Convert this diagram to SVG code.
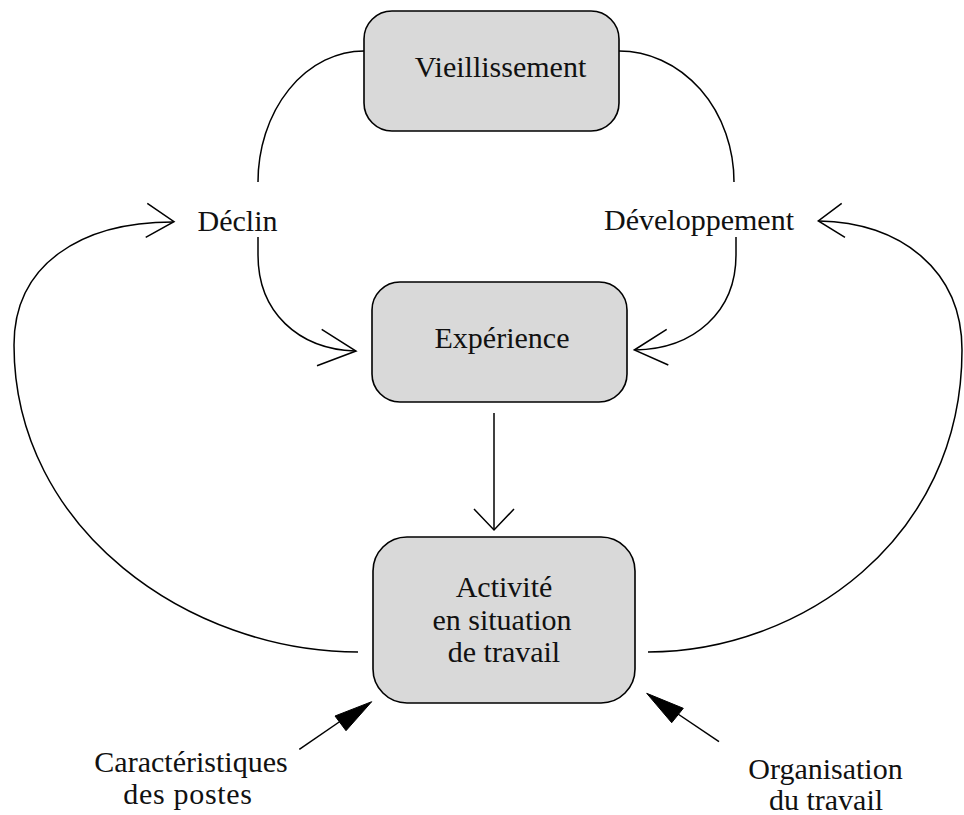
<svg xmlns="http://www.w3.org/2000/svg" width="964" height="815" viewBox="0 0 964 815">
<defs>
<style>
.box{fill:#d9d9d9;stroke:#000;stroke-width:1.6}
.lbl{font-family:"Liberation Serif","Times New Roman",serif;font-size:30px;fill:#111;text-anchor:middle}
.ln{fill:none;stroke:#000;stroke-width:1.5}
.head{fill:none;stroke:#000;stroke-width:1.5;stroke-linejoin:miter}
.solid{fill:#000;stroke:#000;stroke-width:1}
</style>
</defs>
<rect width="964" height="815" fill="#fff"/>
<g id="connectors">
<path class="ln" d="M364,51 A106,131 0 0 0 258,182"/>
<path class="ln" d="M619,51 A115,131 0 0 1 734,182"/>
<path class="ln" d="M258,237 L258,255 C258,312 298,349 355,351"/>
<polyline class="head" points="321.7,329.3 356,351 317,365.7"/>
<path class="ln" d="M736,237 L736,255 C736,312 694,349 635,350"/>
<polyline class="head" points="666.7,329.3 634.3,350 668.3,365"/>
<path class="ln" d="M494,413 L494,529"/>
<polyline class="head" points="474,509 494,530 514,509"/>
<path class="ln" d="M358,652 C190,652 14,530 14,345 C14,265 80,222 173,222"/>
<polyline class="head" points="147.3,203.3 174,221.7 145.7,237.3"/>
<path class="ln" d="M648,652 C800,652 962,540 962,350 C962,270 900,222 819,221"/>
<polyline class="head" points="841.7,203.3 818.3,221 845,237.3"/>
<line class="ln" x1="299.3" y1="749.3" x2="345" y2="718"/>
<polygon class="solid" points="371.7,701.7 335,716 346,730.7"/>
<line class="ln" x1="719" y1="741.7" x2="675" y2="712"/>
<polygon class="solid" points="646.7,693.3 683.3,708.3 671.7,722.7"/>
</g>
<g id="node-vieillissement">
<rect class="box" x="364" y="11" width="255" height="120" rx="28" ry="28"/>
<text class="lbl" x="500.5" y="77">Vieillissement</text>
</g>
<g id="node-experience">
<rect class="box" x="372" y="282" width="255" height="120" rx="28" ry="28"/>
<text class="lbl" x="502" y="348">Expérience</text>
</g>
<g id="node-activite">
<rect class="box" x="373" y="537" width="262" height="166" rx="34" ry="34"/>
<text class="lbl" x="504" y="597">Activité</text>
<text class="lbl" x="502" y="630">en situation</text>
<text class="lbl" x="504" y="662">de travail</text>
</g>
<g id="label-declin">
<text class="lbl" x="237.5" y="231">Déclin</text>
</g>
<g id="label-developpement">
<text class="lbl" x="699" y="230">Développement</text>
</g>
<g id="label-caracteristiques">
<text class="lbl" x="191" y="772">Caractéristiques</text>
<text class="lbl" x="188" y="804" letter-spacing="0.7">des postes</text>
</g>
<g id="label-organisation">
<text class="lbl" x="825.5" y="779">Organisation</text>
<text class="lbl" x="826" y="810">du travail</text>
</g>
</svg>
